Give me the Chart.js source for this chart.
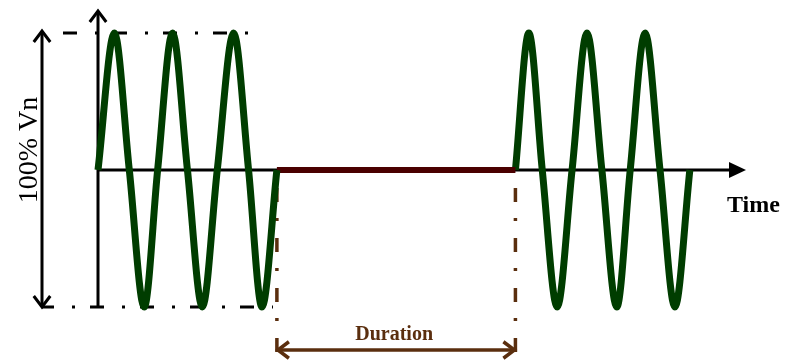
<!DOCTYPE html>
<html>
<head>
<meta charset="utf-8">
<script src="https://cdn.jsdelivr.net/npm/chart.js@4"></script>
<style>
  body { margin: 0; background: #fff; }
  canvas { display: block; }
</style>
</head>
<body>
<canvas id="myChart" width="787" height="360"></canvas>
<script>
// time in ms (50 Hz), voltage in per unit of Vn
const beforeTime = [0, 5.5, 10.5, 15.5, 20, 25, 30, 35, 40, 45.5, 50.5, 55, 60];
const beforeVolt = [0, 1, 0, -1, 0, 1, 0, -1, 0, 1, 0, -1, 0];
const gapTime = [60, 140];
const gapVolt = [0, 0];
const afterTime = [140, 144.5, 149, 154, 159, 164, 169, 174, 178.5, 183.5, 188.5, 193.5, 198.5];
const afterVolt = [0, 1, 0, -1, 0, 1, 0, -1, 0, 1, 0, -1, 0];

const toPoints = (xs, ys) => xs.map((x, i) => ({ x: x, y: ys[i] }));

const green = "#003d00";
const brown = "#5a2e0e";

function chevron(ctx, x, y, dx, dy, size) {
  // open arrow head, tip at x,y pointing along dx,dy
  const px = -dy, py = dx;
  ctx.beginPath();
  ctx.moveTo(x - dx * size + px * size * 0.75, y - dy * size + py * size * 0.75);
  ctx.lineTo(x, y);
  ctx.lineTo(x - dx * size - px * size * 0.75, y - dy * size - py * size * 0.75);
  ctx.stroke();
}

const drawing = {
  id: "drawing",
  beforeDatasetsDraw(chart) {
    const ctx = chart.ctx;
    const sx = chart.scales.x;
    const sy = chart.scales.y;
    const x0 = sx.getPixelForValue(0);
    const yTop = sy.getPixelForValue(1);
    const yBot = sy.getPixelForValue(-1);
    const yMid = sy.getPixelForValue(0);
    const xL = sx.getPixelForValue(gapTime[0]);
    const xR = sx.getPixelForValue(gapTime[1]);
    ctx.save();
    ctx.lineCap = "butt";

    // dash-dot limits of 100% Vn
    ctx.strokeStyle = "#000";
    ctx.lineWidth = 3;
    ctx.setLineDash([14, 18, 3, 15]);
    ctx.lineDashOffset = 0;
    ctx.beginPath();
    ctx.moveTo(63, yTop);
    ctx.lineTo(248, yTop);
    ctx.stroke();
    ctx.lineDashOffset = 2;
    ctx.beginPath();
    ctx.moveTo(42, yBot);
    ctx.lineTo(273, yBot);
    ctx.stroke();

    // duration markers
    ctx.strokeStyle = brown;
    ctx.lineWidth = 3.5;
    ctx.setLineDash([14, 16, 3, 17]);
    ctx.lineDashOffset = 35;
    [xL, xR].forEach((x) => {
      ctx.beginPath();
      ctx.moveTo(x, yMid + 3);
      ctx.lineTo(x, 352);
      ctx.stroke();
    });
    ctx.setLineDash([]);

    // duration arrow
    ctx.lineWidth = 3.5;
    ctx.beginPath();
    ctx.moveTo(xL + 1, 350);
    ctx.lineTo(xR - 1, 350);
    ctx.stroke();
    chevron(ctx, xL + 1, 350, -1, 0, 11);
    chevron(ctx, xR - 1, 350, 1, 0, 11);
    ctx.fillStyle = brown;
    ctx.font = "bold 20px 'Liberation Serif'";
    ctx.textAlign = "center";
    ctx.textBaseline = "alphabetic";
    ctx.fillText("Duration", (xL + xR) / 2 - 2, 340);

    // axes
    ctx.strokeStyle = "#000";
    ctx.fillStyle = "#000";
    ctx.lineWidth = 3;
    ctx.beginPath();
    ctx.moveTo(x0, yBot + 1);
    ctx.lineTo(x0, 11);
    ctx.stroke();
    chevron(ctx, x0, 11, 0, -1, 11);
    ctx.beginPath();
    ctx.moveTo(x0, yMid);
    ctx.lineTo(732, yMid);
    ctx.stroke();
    ctx.beginPath();
    ctx.moveTo(746, yMid);
    ctx.lineTo(729, yMid - 8);
    ctx.lineTo(729, yMid + 8);
    ctx.closePath();
    ctx.fill();

    // 100% Vn double arrow
    ctx.beginPath();
    ctx.moveTo(42, yTop - 2);
    ctx.lineTo(42, yBot);
    ctx.stroke();
    chevron(ctx, 42, yTop - 2, 0, -1, 11);
    chevron(ctx, 42, yBot, 0, 1, 11);

    ctx.font = "bold 24px 'Liberation Serif'";
    ctx.textAlign = "left";
    ctx.fillText("Time", 727, 212);

    ctx.save();
    ctx.translate(37, 150);
    ctx.rotate(-Math.PI / 2);
    ctx.font = "28px 'Liberation Serif'";
    ctx.textAlign = "center";
    ctx.fillText("100% Vn", 0, 0);
    ctx.restore();

    ctx.restore();
  },
};

const ctxChart = document.getElementById("myChart");
new Chart(ctxChart, {
  type: "line",
  data: {
    datasets: [
      {
        label: "Before",
        data: toPoints(beforeTime, beforeVolt),
        borderColor: green,
        borderWidth: 7,
        cubicInterpolationMode: "monotone",
        pointRadius: 0,
        clip: false,
      },
      {
        label: "Interruption",
        data: toPoints(gapTime, gapVolt),
        borderColor: "#4a0000",
        borderWidth: 6,
        pointRadius: 0,
        clip: false,
      },
      {
        label: "After",
        data: toPoints(afterTime, afterVolt),
        borderColor: green,
        borderWidth: 7,
        cubicInterpolationMode: "monotone",
        pointRadius: 0,
        clip: false,
      },
    ],
  },
  options: {
    responsive: false,
    animation: false,
    layout: { padding: { left: 98, right: 42, top: 33, bottom: 53 } },
    plugins: { legend: { display: false }, tooltip: { enabled: false } },
    scales: {
      x: { type: "linear", min: 0, max: 217, display: false },
      y: { min: -1, max: 1, display: false },
    },
  },
  plugins: [drawing],
});
</script>
</body>
</html>
